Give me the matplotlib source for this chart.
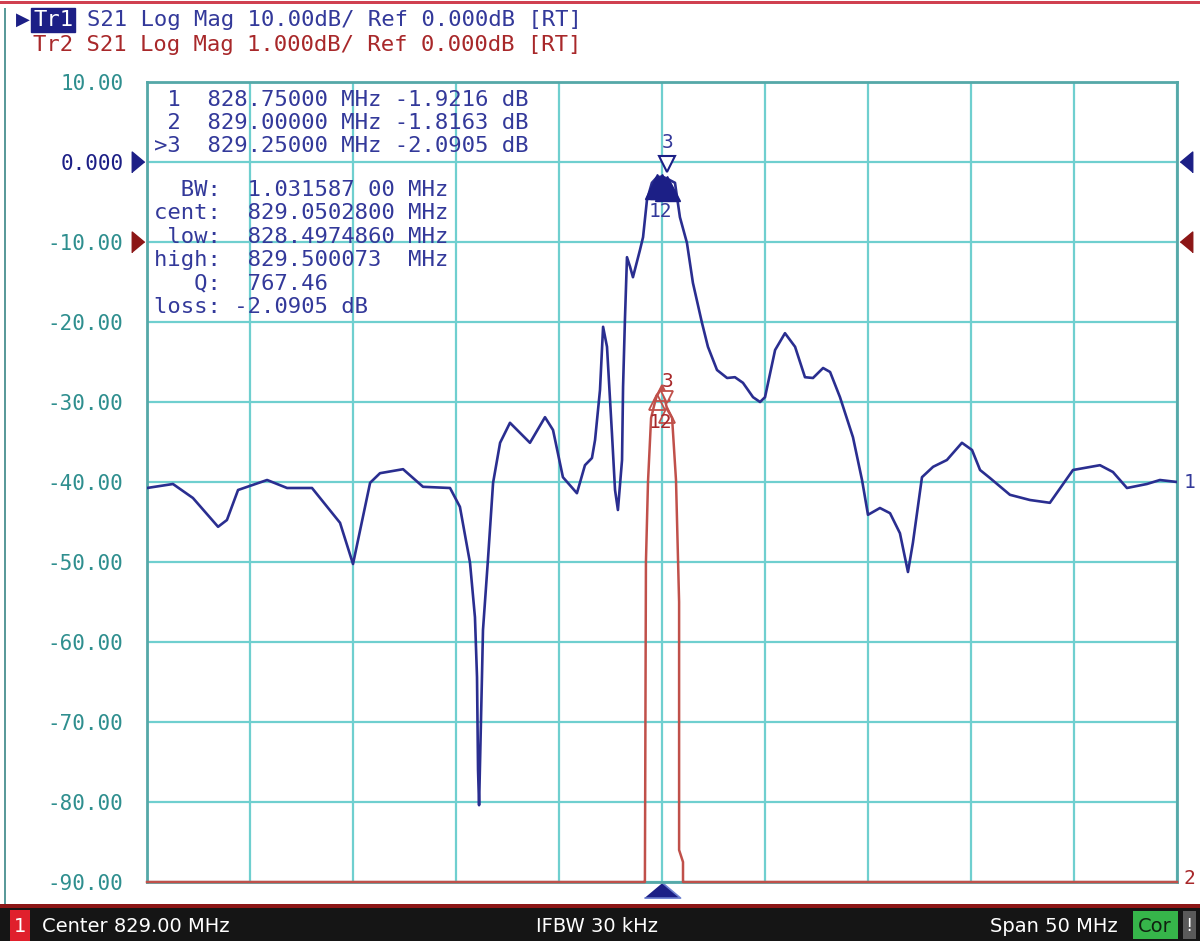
import numpy as np
import matplotlib.pyplot as plt
from matplotlib import transforms
from matplotlib.patches import Rectangle

W, H = 1200, 941

# ---- data ----------------------------------------------------------------
center_mhz = 829.0
span_mhz = 50.0

# Tr1: S21 log mag, 10 dB/div, ref 0 dB at the "0.000" line
tr1_freq = [804.00, 805.26, 806.23, 807.45, 807.88, 808.42, 809.83, 810.80, 812.01,
            813.37, 814.00, 814.83, 815.31, 816.43, 817.40, 818.71, 819.19, 819.68,
            819.92, 820.02, 820.07, 820.12, 820.26, 820.31, 820.55, 820.80, 821.14,
            821.62, 822.59, 823.32, 823.71, 824.19, 824.87, 825.26, 825.60, 825.75,
            825.99, 826.14, 826.33, 826.57, 826.72, 826.86, 827.06, 827.11, 827.20,
            827.30, 827.45, 827.59, 827.93, 828.08, 828.27, 828.51, 828.75, 829.00,
            829.25, 829.63, 829.87, 830.21, 830.50, 830.94, 831.23, 831.67, 832.16,
            832.54, 832.93, 833.42, 833.76, 834.00, 834.49, 834.97, 835.46, 835.94,
            836.33, 836.82, 837.16, 837.64, 838.27, 838.71, 839.00, 839.58, 840.07,
            840.55, 840.94, 841.18, 841.62, 842.16, 842.83, 843.56, 844.05, 844.44,
            844.92, 845.89, 846.86, 847.83, 848.95, 850.26, 850.89, 851.57, 852.54,
            853.17, 854.00]
tr1_db = [-40.75, -40.25, -42.0, -45.6, -44.75, -41.0, -39.75, -40.75, -40.75,
          -45.1, -50.25, -40.1, -38.9, -38.4, -40.6, -40.75, -43.1, -50.1,
          -56.9, -64.4, -76.0, -80.4, -64.4, -58.5, -49.75, -40.1, -35.1,
          -32.6, -35.1, -31.9, -33.5, -39.4, -41.4, -37.9, -37.0, -34.75,
          -28.5, -20.6, -23.1, -33.9, -41.0, -43.5, -37.25, -28.1, -19.75,
          -11.9, -13.1, -14.4, -11.0, -9.4, -4.75, -2.6, -1.9216, -1.8163,
          -2.0905, -2.6, -6.9, -10.1, -15.1, -20.1, -23.1, -26.0, -27.0,
          -26.9, -27.6, -29.4, -30.0, -29.4, -23.5, -21.4, -23.1, -26.9,
          -27.0, -25.75, -26.25, -29.4, -34.4, -39.75, -44.1, -43.25, -43.9,
          -46.4, -51.25, -47.6, -39.4, -38.1, -37.25, -35.1, -36.0, -38.5,
          -39.5, -41.6, -42.25, -42.6, -38.5, -37.9, -38.75, -40.75, -40.25,
          -39.75, -40.0]

# Tr2: same S21, 1 dB/div, ref 0 dB at the "-10.00" line
tr2_freq = [804.0, 828.12, 828.17, 828.22, 828.32, 828.47, 828.66, 828.75, 829.00,
            829.25, 829.49, 829.68, 829.83, 829.83, 830.02, 830.02, 830.10, 854.0]
tr2_db = [-12.0, -12.0, -8.0, -4.0, -3.0, -2.2, -2.0, -1.9216, -1.8163,
          -2.0905, -2.2, -2.98, -4.5, -7.6, -7.75, -8.0, -12.0, -12.0]

marker_freq = [828.75, 829.00, 829.25]
marker_db = [-1.9216, -1.8163, -2.0905]

y_ticks = [10, 0, -10, -20, -30, -40, -50, -60, -70, -80, -90]
y_labels = ['10.00', '0.000', '-10.00', '-20.00', '-30.00', '-40.00',
            '-50.00', '-60.00', '-70.00', '-80.00', '-90.00']

header1 = "Tr1 S21 Log Mag 10.00dB/ Ref 0.000dB [RT]"
header2 = "Tr2 S21 Log Mag 1.000dB/ Ref 0.000dB [RT]"
marker_lines = [" 1  828.75000 MHz -1.9216 dB",
                " 2  829.00000 MHz -1.8163 dB",
                ">3  829.25000 MHz -2.0905 dB"]
bw_lines = ["  BW:  1.031587 00 MHz",
            "cent:  829.0502800 MHz",
            " low:  828.4974860 MHz",
            "high:  829.500073  MHz",
            "   Q:  767.46",
            "loss: -2.0905 dB"]

tr1_ref_pos, tr1_scale = 0.0, 10.0
tr2_ref_pos, tr2_scale = -10.0, 1.0

# ---- colours / fonts --------------------------------------------------
navy = '#1c1f86'
blue_txt = '#33399a'
red_txt = '#a8282a'
red_trace = '#c0504a'
dark_red = '#8c1616'
grid_c = '#6fcfcf'
teal_txt = '#2f8f8f'
mono = 'DejaVu Sans Mono'
narrow = ['Liberation Sans Narrow', 'DejaVu Sans']
mono_px = 0.602 * 16 * 100 / 72   # advance of one mono char at 16 pt


def fx(px):
    return px / W


def fy(py):
    return 1 - py / H


fig = plt.figure(figsize=(W / 100, H / 100), dpi=100, facecolor='white')
ax = fig.add_axes([fx(147), fy(882), 1030 / W, 800 / H])

lo, hi = center_mhz - span_mhz / 2, center_mhz + span_mhz / 2
ax.set_xlim(lo, hi)
ax.set_ylim(-90, 10)
ax.set_xticks(np.arange(lo, hi + 0.1, span_mhz / 10))
ax.set_xticklabels([])
ax.set_yticks(y_ticks)
ax.set_yticklabels(y_labels, fontfamily=mono, fontsize=15, color=teal_txt)
ax.get_yticklabels()[1].set_color(navy)
ax.tick_params(axis='both', length=0)
ax.tick_params(axis='y', pad=17)
ax.grid(True, color=grid_c, lw=1.6)
ax.set_axisbelow(True)
for s in ax.spines.values():
    s.set_color('#55a8a8')
    s.set_linewidth(2)

# traces
tr1_screen = tr1_ref_pos + np.array(tr1_db) / tr1_scale * 10
tr2_screen = np.clip(tr2_ref_pos + np.array(tr2_db) / tr2_scale * 10, -90, 10)
ax.plot(tr2_freq, tr2_screen, color=red_trace, lw=1.8, clip_on=False, zorder=3)
ax.plot(tr1_freq, tr1_screen, color='#2a2e90', lw=1.9, zorder=4)


def shifted(dy, base=None):
    return transforms.offset_copy(base or ax.transData, fig=fig, x=0, y=dy, units='dots')


# markers on Tr1
m1 = tr1_ref_pos + np.array(marker_db) / tr1_scale * 10
ax.plot(marker_freq, m1, ls='none', marker='^', ms=18, mfc=navy, mec=navy,
        transform=shifted(-9), zorder=6, clip_on=False)
ax.plot(marker_freq[2], m1[2], marker='v', ms=11, mfc='white', mec=navy, mew=1.5,
        transform=shifted(15), zorder=6, clip_on=False)
ax.text(marker_freq[2], m1[2], '3', transform=shifted(36), color=blue_txt,
        fontfamily=mono, fontsize=14, ha='center', va='center', zorder=7)
ax.text(np.mean(marker_freq[:2]) + 0.05, m1[0], '12', transform=shifted(-34),
        color=blue_txt, fontfamily=mono, fontsize=14, ha='center', va='center', zorder=7)

# markers on Tr2
m2 = tr2_ref_pos + np.array(marker_db) / tr2_scale * 10
ax.plot(marker_freq, m2, ls='none', marker='^', ms=12, mfc='none', mec=red_trace,
        mew=1.3, transform=shifted(-6), zorder=6, clip_on=False)
ax.plot(marker_freq[2], m2[2], marker='v', ms=9, mfc='white', mec=red_trace, mew=1.3,
        transform=shifted(12), zorder=6, clip_on=False)
ax.text(marker_freq[2], m2[2], '3', transform=shifted(28), color=red_txt,
        fontfamily=mono, fontsize=14, ha='center', va='center', zorder=7)
ax.text(np.mean(marker_freq[:2]) + 0.05, m2[0], '12', transform=shifted(-27),
        color=red_txt, fontfamily=mono, fontsize=14, ha='center', va='center', zorder=7)

# trace end labels on the right
ax.text(hi, tr1_screen[-1], '1', transform=transforms.offset_copy(ax.transData, fig=fig, x=7, y=0, units='dots'),
        color=blue_txt, fontfamily=mono, fontsize=14, ha='left', va='center')
ax.text(hi, -90, '2', transform=transforms.offset_copy(ax.transData, fig=fig, x=7, y=3, units='dots'),
        color=red_txt, fontfamily=mono, fontsize=14, ha='left', va='center')

# reference level arrows on both sides
tall_right = [(-0.6, -1), (-0.6, 1), (0.6, 0)]
tall_left = [(0.6, -1), (0.6, 1), (-0.6, 0)]
ytr = transforms.blended_transform_factory(ax.transAxes, ax.transData)
for pos, col in [(tr1_ref_pos, navy), (tr2_ref_pos, dark_red)]:
    ax.plot([0], [pos], marker=tall_right, ms=15, color=col, clip_on=False,
            transform=transforms.offset_copy(ytr, fig=fig, x=-9, y=0, units='dots'))
    ax.plot([1], [pos], marker=tall_left, ms=15, color=col, clip_on=False,
            transform=transforms.offset_copy(ytr, fig=fig, x=9, y=0, units='dots'))

# stimulus marker under the grid (flat, wide triangle)
xtr = transforms.blended_transform_factory(ax.transData, ax.transAxes)
flat_up = [(-1, -0.42), (1, -0.42), (0, 0.42)]
ax.plot([marker_freq[1]], [0], marker=flat_up, ms=26, mfc=navy, mec='#6d80d0', mew=1.2,
        clip_on=False, transform=transforms.offset_copy(xtr, fig=fig, x=0, y=-8, units='dots'))

# marker read-out block
for i, line in enumerate(marker_lines):
    fig.text(fx(154), fy(100 + i * 23), line, color=blue_txt, fontfamily=mono,
             fontsize=16, ha='left', va='center')
for i, line in enumerate(bw_lines):
    fig.text(fx(154), fy(190 + i * 23.4), line, color=blue_txt, fontfamily=mono,
             fontsize=16, ha='left', va='center')

# header lines
fig.text(fx(33), fy(20), header1[:3], color='white', fontfamily=mono, fontsize=16,
         ha='left', va='center',
         bbox=dict(boxstyle='square,pad=0.08', facecolor=navy, edgecolor=navy))
fig.text(fx(33 + 4 * mono_px), fy(20), header1[4:], color=blue_txt, fontfamily=mono,
         fontsize=16, ha='left', va='center')
fig.text(fx(33), fy(45), header2, color=red_txt, fontfamily=mono, fontsize=16,
         ha='left', va='center')
fig.text(fx(16), fy(20), '\u25b6', color=navy, fontsize=13, ha='left', va='center')

# frame bits
fig.add_artist(Rectangle((0, fy(4)), 1, 3 / H, transform=fig.transFigure,
                         facecolor='#d04050', edgecolor='none'))
fig.add_artist(Rectangle((fx(4), fy(904)), 2 / W, 896 / H, transform=fig.transFigure,
                         facecolor='#5a9a9a', edgecolor='none'))

# status bar
fig.add_artist(Rectangle((0, 0), 1, fy(904), transform=fig.transFigure,
                         facecolor='#151515', edgecolor='none'))
fig.add_artist(Rectangle((0, fy(908)), 1, 4 / H, transform=fig.transFigure,
                         facecolor=dark_red, edgecolor='none'))
fig.add_artist(Rectangle((fx(10), 0), 20 / W, fy(910), transform=fig.transFigure,
                         facecolor='#e0202c', edgecolor='none'))
fig.text(fx(20), fy(926), '1', color='white', fontfamily=narrow, fontsize=14,
         ha='center', va='center')
fig.text(fx(42), fy(926), 'Center 829.00 MHz', color='white', fontfamily=narrow,
         fontsize=14, ha='left', va='center')
fig.text(fx(597), fy(926), 'IFBW 30 kHz', color='white', fontfamily=narrow,
         fontsize=14, ha='center', va='center')
fig.text(fx(1118), fy(926), 'Span 50 MHz', color='white', fontfamily=narrow,
         fontsize=14, ha='right', va='center')
fig.add_artist(Rectangle((fx(1133), fy(939)), 45 / W, 28 / H, transform=fig.transFigure,
                         facecolor='#36b54a', edgecolor='none'))
fig.text(fx(1155), fy(926), 'Cor', color='#102010', fontfamily=narrow, fontsize=14,
         ha='center', va='center')
fig.add_artist(Rectangle((fx(1183), fy(939)), 13 / W, 28 / H, transform=fig.transFigure,
                         facecolor='#5a5a5a', edgecolor='none'))
fig.text(fx(1189), fy(926), '!', color='white', fontfamily=narrow, fontsize=13,
         ha='center', va='center')

fig.savefig('out.png', dpi=100, facecolor='white')
